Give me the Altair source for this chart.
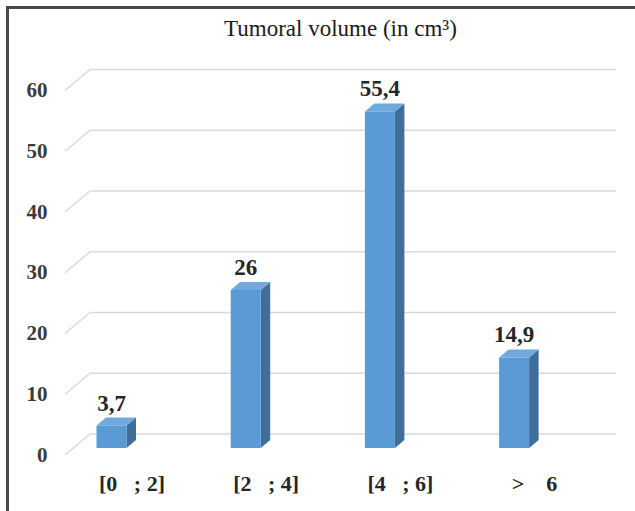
import json
import altair as alt
import pandas as pd

# ---------------- data ----------------
CATEGORIES = ["[0\u00a0\u00a0\u00a0; 2]", "[2\u00a0\u00a0\u00a0; 4]", "[4\u00a0\u00a0\u00a0; 6]", ">\u00a0\u00a0\u00a0\u00a06"]
VALUES = [3.7, 26, 55.4, 14.9]
VALUE_LABELS = ["3,7", "26", "55,4", "14,9"]
Y_TICKS = [0, 10, 20, 30, 40, 50, 60]
TITLE = "Tumoral volume (in cm³)"

# ---------------- style / geometry ----------------
W, H = 551, 420
PX_PER_CAT = 134.2
FIRST_BAR_PX = 46.5
PX_PER_UNIT = 6.075
ZERO_PX = 384.0          # back-wall zero line from plot top
WALL_DX, WALL_DY = 25.0, 21.0
BAR_FRONT = 14.0         # bar base above back zero line (px)
BAR_HALF = 15.0
BAR_DX, BAR_DY = 9.5, 8.0

FONT = "Liberation Serif"
FRONT = "#5B9BD5"
SIDE = "#3F6E99"
TOPC = "#6FA9DE"
GRID = "#D9D9D9"
TEXT = "#262626"

xmin = -FIRST_BAR_PX / PX_PER_CAT
xmax = (W - FIRST_BAR_PX) / PX_PER_CAT
ytop = ZERO_PX / PX_PER_UNIT
ybot = -(H - ZERO_PX) / PX_PER_UNIT

XS = alt.Scale(domain=[xmin, xmax], nice=False, zero=False)
YS = alt.Scale(domain=[ybot, ytop], nice=False, zero=False)

XAXIS = alt.Axis(
    values=list(range(len(CATEGORIES))),
    labelExpr=json.dumps(CATEGORIES) + "[datum.value]",
    title=None, domain=False, ticks=False, grid=False,
    labelOffset=20, labelPadding=3, labelOverlap=False, labelFlush=False,
    labelFont=FONT, labelFontSize=22, labelFontWeight="bold", labelColor=TEXT,
)
YAXIS = alt.Axis(
    values=Y_TICKS, title=None, domain=False, ticks=False, grid=False,
    labelOffset=21, labelPadding=18, labelOverlap=False, labelFlush=False,
    labelFont=FONT, labelFontSize=21, labelFontWeight="bold", labelColor="#3a3a3a",
)


def X(f):
    return alt.X(f, type="quantitative", scale=XS, axis=XAXIS)


def Y(f):
    return alt.Y(f, type="quantitative", scale=YS, axis=YAXIS, stack=None)


du_x = 1.0 / PX_PER_CAT
du_y = 1.0 / PX_PER_UNIT
base = -BAR_FRONT * du_y

# gridlines
grid = pd.DataFrame({"v": Y_TICKS})
grid["vf"] = grid["v"] - WALL_DY * du_y
grid["x0"] = xmin
grid["xw"] = xmin + WALL_DX * du_x
grid["x1"] = xmax

# bars
bars = pd.DataFrame({"i": range(len(CATEGORIES)), "v": VALUES, "lab": VALUE_LABELS})
bars["top"] = bars["v"] + base
bars["base"] = base
bars["xl"] = bars["i"] - BAR_HALF * du_x
bars["xr"] = bars["i"] + BAR_HALF * du_x

side_rows, top_rows = [], []
for _, r in bars.iterrows():
    dx, dy = BAR_DX * du_x, BAR_DY * du_y
    side_rows += [
        {"k": r.i, "x": r.xr, "y": r.top, "y2": r.base},
        {"k": r.i, "x": r.xr + dx, "y": r.top + dy, "y2": r.base + dy},
    ]
    top_rows += [
        {"k": r.i, "x": r.xl, "y": r.top, "y2": r.top},
        {"k": r.i, "x": r.xl + dx, "y": r.top + dy, "y2": r.top},
        {"k": r.i, "x": r.xr, "y": r.top + dy, "y2": r.top},
        {"k": r.i, "x": r.xr + dx, "y": r.top + dy, "y2": r.top + dy},
    ]
side = pd.DataFrame(side_rows)
topf = pd.DataFrame(top_rows)

frame_top = alt.Chart(alt.Data(values=[{}])).mark_rule(color="#4a4a4a", strokeWidth=3).encode(
    x=alt.value(-58), x2=alt.value(W + 30), y=alt.value(-42.5)
)
frame_left = alt.Chart(alt.Data(values=[{}])).mark_rule(color="#4a4a4a", strokeWidth=3).encode(
    x=alt.value(-57.5), y=alt.value(-44), y2=alt.value(H + 60)
)

g_h = alt.Chart(grid).mark_rule(color=GRID, strokeWidth=1.5).encode(
    x=X("xw"), x2="x1", y=Y("v")
)
g_d = alt.Chart(grid).mark_rule(color=GRID, strokeWidth=1.5).encode(
    x=X("x0"), x2="xw", y=Y("vf"), y2="v"
)

side_l = alt.Chart(side).mark_area(color=SIDE, interpolate="linear").encode(
    x=X("x"), y=Y("y"), y2="y2", detail="k:N"
)
top_l = alt.Chart(topf).mark_area(color=TOPC, interpolate="linear").encode(
    x=X("x"), y=Y("y"), y2="y2", detail="k:N"
)
front_l = alt.Chart(bars).mark_rect(color=FRONT).encode(
    x=X("xl"), x2="xr", y=Y("top"), y2="base"
)
text_l = alt.Chart(bars).mark_text(
    font=FONT, fontSize=23, fontWeight="bold", color=TEXT, dy=-22, baseline="middle"
).encode(x=X("i"), y=Y("top"), text="lab:N")

chart = alt.layer(frame_top, frame_left, g_h, g_d, side_l, top_l, front_l, text_l).properties(
    width=W, height=H,
    title=alt.TitleParams(TITLE, font=FONT, fontSize=23, fontWeight="normal",
                          color="#1a1a1a", anchor="middle", offset=0,
                          baseline="alphabetic", dy=54.5),
    autosize=alt.AutoSizeParams(type="none"),
    padding={"left": 65, "top": 50, "right": 19, "bottom": 41},
    background="white",
).configure_view(stroke=None)

chart.save("out.html", embed_options={"renderer": "svg", "actions": False})
